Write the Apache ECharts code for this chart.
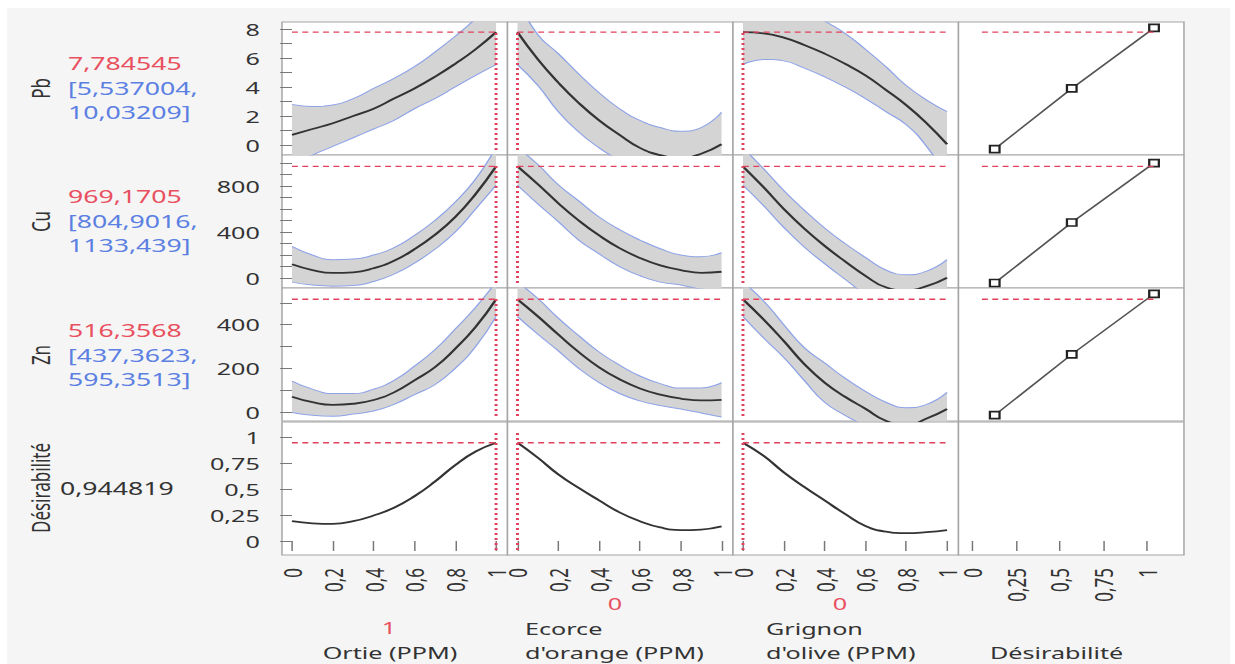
<!DOCTYPE html>
<html>
<head>
<meta charset="utf-8">
<script src="https://cdn.jsdelivr.net/npm/echarts@6.0.0/dist/echarts.min.js"></script>
<style>
html, body { margin: 0; padding: 0; background: #fff; overflow: hidden; }
#bg { position: absolute; left: 7px; top: 8px; width: 1223px; height: 656px; background: #f5f5f5; }
/* the reference picture is stretched sideways, so the chart is drawn narrow and stretched */
#chart { position: absolute; left: 0; top: 0; width: 835px; height: 664px; transform: scaleX(1.479); transform-origin: 0 0; }
</style>
</head>
<body>
<div id="bg"></div>
<div id="chart"></div>
<script>
// factor settings along each profile
var xs = [0, 0.1, 0.2, 0.3, 0.4, 0.5, 0.6, 0.7, 0.8, 0.9, 1];

// Pb
var pbOrtieMid = [0.7, 1.1, 1.5, 2.0, 2.5, 3.2, 3.9, 4.7, 5.6, 6.6, 7.78];
var pbOrtieLow = [-1.4, -0.7, -0.1, 0.5, 1.1, 1.7, 2.5, 3.2, 4.0, 4.8, 5.54];
var pbOrtieHigh = [2.8, 2.65, 2.75, 3.2, 3.9, 4.6, 5.4, 6.4, 7.5, 8.7, 10.03];
var pbEcorceMid = [7.78, 5.9, 4.3, 2.9, 1.7, 0.7, -0.2, -0.7, -0.9, -0.6, 0.05];
var pbEcorceLow = [5.54, 4.1, 2.3, 0.9, -0.2, -1.1, -2.1, -2.6, -2.75, -2.4, -2.15];
var pbEcorceHigh = [10.03, 7.6, 6.3, 4.9, 3.6, 2.5, 1.7, 1.2, 0.95, 1.2, 2.25];
var pbGrignonMid = [7.78, 7.7, 7.4, 6.9, 6.3, 5.6, 4.8, 3.8, 2.75, 1.5, 0.05];
var pbGrignonLow = [5.54, 5.9, 5.8, 5.3, 4.7, 4.0, 3.2, 2.3, 1.4, -0.1, -2.2];
var pbGrignonHigh = [10.03, 10.1, 9.9, 9.4, 8.55, 7.7, 6.6, 5.4, 4.1, 3.1, 2.3];

// Cu
var cuOrtieMid = [120, 70, 45, 50, 85, 150, 250, 375, 530, 730, 969];
var cuOrtieLow = [-35, -60, -70, -65, -30, 35, 130, 250, 400, 600, 805];
var cuOrtieHigh = [275, 200, 160, 165, 200, 265, 370, 500, 660, 860, 1133];
var cuEcorceMid = [969, 814, 650, 500, 370, 260, 175, 110, 70, 45, 55];
var cuEcorceLow = [805, 643, 490, 330, 210, 100, 20, -35, -60, -95, -110];
var cuEcorceHigh = [1133, 985, 810, 670, 530, 420, 330, 255, 200, 185, 220];
var cuGrignonMid = [969, 790, 600, 430, 280, 145, 20, -80, -105, -70, 3];
var cuGrignonLow = [805, 630, 440, 270, 125, -10, -140, -230, -240, -200, -154];
var cuGrignonHigh = [1133, 950, 760, 590, 435, 300, 180, 70, 30, 60, 160];

// Zn
var znOrtieMid = [70, 45, 33, 38, 55, 90, 145, 205, 290, 390, 516];
var znOrtieLow = [-2, -15, -19, -9, 5, 35, 80, 125, 200, 300, 437];
var znOrtieHigh = [142, 105, 85, 85, 105, 145, 210, 285, 380, 480, 595];
var znEcorceMid = [516, 438, 355, 275, 205, 150, 108, 80, 62, 53, 56];
var znEcorceLow = [437, 356, 280, 200, 135, 85, 51, 30, 14, -4, -23];
var znEcorceHigh = [595, 520, 430, 350, 275, 215, 165, 130, 110, 110, 135];
var znGrignonMid = [516, 425, 325, 220, 135, 70, 15, -40, -60, -30, 14];
var znGrignonLow = [437, 340, 250, 145, 45, -15, -65, -125, -140, -95, -62];
var znGrignonHigh = [595, 510, 400, 295, 225, 155, 95, 45, 20, 35, 90];

// desirability
var dOrtie = [0.19, 0.17, 0.165, 0.19, 0.245, 0.32, 0.43, 0.57, 0.73, 0.86, 0.945];
var dEcorce = [0.945, 0.8, 0.64, 0.51, 0.39, 0.275, 0.19, 0.13, 0.105, 0.11, 0.14];
var dGrignon = [0.945, 0.82, 0.66, 0.52, 0.39, 0.26, 0.145, 0.09, 0.075, 0.085, 0.105];

// desirability functions (last column)
var desirX = [0.13, 0.57, 1.04];
var pbDesir = [-0.28, 3.9, 8.07];
var cuDesir = [-43, 482, 998];
var znDesir = [-14, 264, 541];

// current settings and predictions
var factorNow = [1, 0, 0];
var predNow = [7.784545, 969.1705, 516.3568, 0.944819];
var rowNames = ['Pb', 'Cu', 'Zn', 'Désirabilité'];
var predText = ['7,784545', '969,1705', '516,3568', '0,944819'];
var ciText = [['[5,537004,', '10,03209]'], ['[804,9016,', '1133,439]'], ['[437,3623,', '595,3513]']];

// tick labels
var pbTicks = [0, 2, 4, 6, 8];
var pbMinor = [0, 1, 2, 3, 4, 5, 6, 7, 8];
var cuTicks = [0, 400, 800];
var cuMinor = [0, 100, 200, 300, 400, 500, 600, 700, 800, 900, 1000];
var znTicks = [0, 200, 400];
var znMinor = [0, 100, 200, 300, 400, 500];
var dTicks = [0, 0.25, 0.5, 0.75, 1];
var xTicks = [0, 0.2, 0.4, 0.6, 0.8, 1];
var desirTicks = [0, 0.25, 0.5, 0.75, 1];

var S = 1235 / 835;
function px(v) { return v / S; }
function pairs(a, b) { return a.map(function (v, i) { return [v, b[i]]; }); }
function fmt(v) { return String(+v.toFixed(4)).replace('.', ','); }

var FONT = '"Noto Sans", "Open Sans", sans-serif';
var RED = '#e2405c';
var BLUE_EDGE = '#8ea3e8';
var SMOOTH = 0.5;

var colLeft = [282, 507.5, 733, 958.5], colW = 225.5;
var rowTop = [22, 155, 288, 422], rowH = 133;
var yRange = [[-0.69, 8.48], [-86, 1068], [-41, 568], [-0.135, 1.144]];
var yLabels = [pbTicks, cuTicks, znTicks, dTicks];
var yTicks = [pbMinor, cuMinor, znMinor, dTicks];

var bands = [
  [[pbOrtieLow, pbOrtieMid, pbOrtieHigh], [pbEcorceLow, pbEcorceMid, pbEcorceHigh], [pbGrignonLow, pbGrignonMid, pbGrignonHigh]],
  [[cuOrtieLow, cuOrtieMid, cuOrtieHigh], [cuEcorceLow, cuEcorceMid, cuEcorceHigh], [cuGrignonLow, cuGrignonMid, cuGrignonHigh]],
  [[znOrtieLow, znOrtieMid, znOrtieHigh], [znEcorceLow, znEcorceMid, znEcorceHigh], [znGrignonLow, znGrignonMid, znGrignonHigh]]
];
var dCurves = [dOrtie, dEcorce, dGrignon];
var desirCurves = [pbDesir, cuDesir, znDesir];

var grids = [], xAxes = [], yAxes = [], series = [];

for (var r = 0; r < 4; r++) {
  for (var c = 0; c < 4; c++) {
    var g = r * 4 + c;
    grids.push({
      left: px(colLeft[c]), top: rowTop[r], width: px(colW), height: rowH,
      show: true, backgroundColor: '#fff', borderColor: '#a5a5a5', borderWidth: 1,
      containLabel: false, outerBoundsMode: 'none'
    });
    var xt = c === 3 ? desirTicks : xTicks;
    xAxes.push({
      type: 'value', gridIndex: g,
      min: c === 3 ? -0.077 : -0.049, max: c === 3 ? 1.211 : 1.056,
      axisLine: { show: false }, splitLine: { show: false },
      axisTick: { show: r === 3, length: 10, customValues: xt, lineStyle: { color: '#777' } },
      axisLabel: { show: r === 3, rotate: 90, margin: 13, customValues: xt, formatter: fmt,
        fontSize: 17, color: '#333', fontFamily: FONT }
    });
    yAxes.push({
      type: 'value', gridIndex: g, min: yRange[r][0], max: yRange[r][1],
      axisLine: { show: false }, splitLine: { show: false },
      axisTick: { show: c === 0, length: 8, customValues: yTicks[r], lineStyle: { color: '#777' } },
      axisLabel: { show: c === 0, margin: 15, customValues: yLabels[r], formatter: fmt,
        fontSize: 17, color: '#333', fontFamily: FONT }
    });

    var base = { type: 'line', xAxisIndex: g, yAxisIndex: g, symbol: 'none', silent: true, animation: false };

    if (c < 3 && r < 3) {
      var b = bands[r][c];
      var diff = b[2].map(function (v, i) { return v - b[0][i]; });
      // y first in each pair so that the stack adds along y
      series.push(Object.assign({}, base, { data: pairs(b[0], xs), encode: { x: 1, y: 0 },
        stack: 'band' + g, stackStrategy: 'all',
        smooth: SMOOTH, lineStyle: { color: BLUE_EDGE, width: 1 }, z: 1 }));
      series.push(Object.assign({}, base, { data: pairs(diff, xs), encode: { x: 1, y: 0 },
        stack: 'band' + g, stackStrategy: 'all',
        smooth: SMOOTH, lineStyle: { color: BLUE_EDGE, width: 1 }, areaStyle: { color: '#d4d4d4', opacity: 1 }, z: 1 }));
      series.push(Object.assign({}, base, { data: pairs(xs, b[1]), smooth: SMOOTH,
        lineStyle: { color: '#333', width: 1.8 }, z: 3 }));
    } else if (c < 3) {
      series.push(Object.assign({}, base, { data: pairs(xs, dCurves[c]), smooth: SMOOTH,
        lineStyle: { color: '#333', width: 1.8 }, z: 3 }));
    } else if (r < 3) {
      series.push(Object.assign({}, base, { data: pairs(desirX, desirCurves[r]), symbol: 'rect', symbolSize: [6.5, 7],
        lineStyle: { color: '#555', width: 1.4 }, itemStyle: { color: '#fff', borderColor: '#222', borderWidth: 1.6 }, z: 4 }));
    }

    // red current-value guides
    if (c < 3 || r < 3) {
      var x0 = c === 3 ? 0.057 : 0, x1 = c === 3 ? 1.04 : 1;
      series.push(Object.assign({}, base, { data: [[x0, predNow[r]], [x1, predNow[r]]],
        lineStyle: { color: RED, width: 1.4, type: [4, 3] }, z: 5 }));
    }
    if (c < 3) {
      var span = yRange[r][1] - yRange[r][0];
      series.push(Object.assign({}, base, {
        data: [[factorNow[c], yRange[r][1] - span * 11 / 133], [factorNow[c], yRange[r][0] + span * 5 / 133]],
        lineStyle: { color: RED, width: 2, type: [2, 3] }, z: 5 }));
    }
  }
}

// texts round the grid
var graphic = [];
function txt(x, y, s, color, align, rot) {
  graphic.push({ type: 'text', x: px(x), y: y, rotation: rot || 0, silent: true,
    style: { text: s, fill: color, fontSize: 17, fontFamily: FONT, align: align || 'left', verticalAlign: 'middle' } });
}
var rowMid = [88.5, 221.5, 355, 488];
for (var i = 0; i < 4; i++) {
  txt(40, rowMid[i], rowNames[i], '#333', 'center', Math.PI / 2);
}
for (var j = 0; j < 3; j++) {
  graphic.push({ type: 'text', x: px(68), y: rowMid[j] - 25, silent: true,
    style: { text: predText[j], fill: '#e9505f', fontSize: 18, fontFamily: FONT, align: 'left', verticalAlign: 'middle' } });
  graphic.push({ type: 'text', x: px(68), y: rowMid[j], silent: true,
    style: { text: ciText[j][0], fill: '#5b7fe2', fontSize: 18, fontFamily: FONT, align: 'left', verticalAlign: 'middle' } });
  graphic.push({ type: 'text', x: px(68), y: rowMid[j] + 24, silent: true,
    style: { text: ciText[j][1], fill: '#5b7fe2', fontSize: 18, fontFamily: FONT, align: 'left', verticalAlign: 'middle' } });
}
graphic.push({ type: 'text', x: px(60), y: rowMid[3], silent: true,
  style: { text: predText[3], fill: '#333', fontSize: 18, fontFamily: FONT, align: 'left', verticalAlign: 'middle' } });

txt(389, 627, String(factorNow[0]), '#e9505f', 'center');
txt(390, 652, 'Ortie (PPM)', '#333', 'center');
txt(615, 603, String(factorNow[1]), '#e9505f', 'center');
txt(525, 628, 'Ecorce', '#333');
txt(525, 652, "d'orange (PPM)", '#333');
txt(840, 603, String(factorNow[2]), '#e9505f', 'center');
txt(766, 628, 'Grignon', '#333');
txt(766, 652, "d'olive (PPM)", '#333');
txt(990, 652, 'Désirabilité', '#333');

var chart = echarts.init(document.getElementById('chart'), null, { renderer: 'svg' });
chart.setOption({
  animation: false,
  backgroundColor: 'transparent',
  grid: grids,
  xAxis: xAxes,
  yAxis: yAxes,
  series: series,
  graphic: graphic
});
</script>
</body>
</html>
